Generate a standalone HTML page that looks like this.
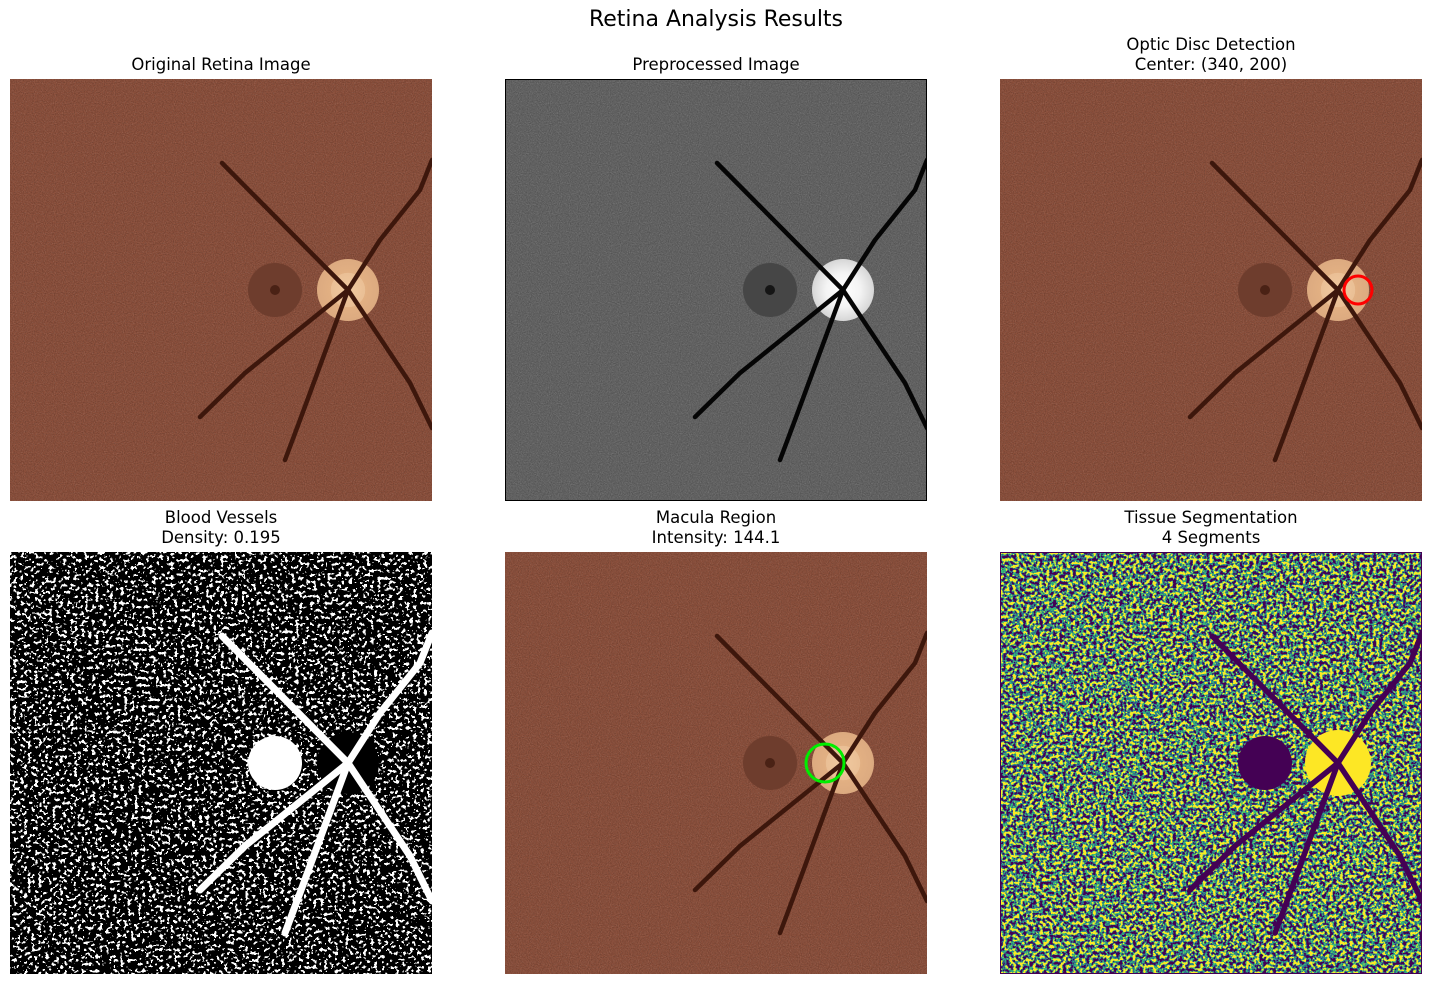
<!DOCTYPE html>
<html><head><meta charset="utf-8">
<style>
html,body{margin:0;padding:0;background:#fff;}
body{width:1432px;height:985px;overflow:hidden;font-family:"DejaVu Sans","Liberation Sans",sans-serif;}
</style></head>
<body>
<svg id="fig" width="1432" height="985" xmlns="http://www.w3.org/2000/svg" font-family="DejaVu Sans, Liberation Sans, sans-serif">
<defs>
<filter id="grain" x="0" y="0" width="100%" height="100%">
  <feTurbulence type="fractalNoise" baseFrequency="0.9" numOctaves="1" seed="3"/>
  <feColorMatrix type="matrix" values="0 0 0 0 0  0 0 0 0 0  0 0 0 0 0  1.2 0 0 0 -0.45"/>
  <feComposite in2="SourceGraphic" operator="in"/>
</filter>
<filter id="grainLight" x="0" y="0" width="100%" height="100%">
  <feTurbulence type="fractalNoise" baseFrequency="0.9" numOctaves="1" seed="7"/>
  <feColorMatrix type="matrix" values="0 0 0 0 1  0 0 0 0 1  0 0 0 0 1  1.2 0 0 0 -0.55"/>
  <feComposite in2="SourceGraphic" operator="in"/>
</filter>
<filter id="binary" x="0" y="0" width="100%" height="100%" color-interpolation-filters="sRGB">
  <feTurbulence type="fractalNoise" baseFrequency="0.28" numOctaves="2" seed="11"/>
  <feColorMatrix type="matrix" values="3 0 0 0 -1  3 0 0 0 -1  3 0 0 0 -1  0 0 0 0 1"/>
  <feComponentTransfer>
    <feFuncR type="discrete" tableValues="0 0 0 0 0 0 0 0 1 1"/>
    <feFuncG type="discrete" tableValues="0 0 0 0 0 0 0 0 1 1"/>
    <feFuncB type="discrete" tableValues="0 0 0 0 0 0 0 0 1 1"/>
  </feComponentTransfer>
</filter>
<filter id="viridis" x="0" y="0" width="100%" height="100%" color-interpolation-filters="sRGB">
  <feTurbulence type="fractalNoise" baseFrequency="0.3" numOctaves="2" seed="5"/>
  <feColorMatrix type="matrix" values="3 0 0 0 -1  3 0 0 0 -1  3 0 0 0 -1  0 0 0 0 1"/>
  <feComponentTransfer>
    <feFuncR type="discrete" tableValues="0.27 0.19 0.21 0.99"/>
    <feFuncG type="discrete" tableValues="0.004 0.41 0.72 0.91"/>
    <feFuncB type="discrete" tableValues="0.33 0.56 0.47 0.15"/>
  </feComponentTransfer>
</filter>
<radialGradient id="discG">
  <stop offset="0" stop-color="#f0c9a0"/><stop offset="0.55" stop-color="#eabf95"/><stop offset="0.56" stop-color="#e2b083"/><stop offset="1" stop-color="#dcaa80"/>
</radialGradient>
<radialGradient id="discW">
  <stop offset="0" stop-color="#ffffff"/><stop offset="0.55" stop-color="#f4f4f4"/><stop offset="1" stop-color="#d6d6d6"/>
</radialGradient>
</defs>
<text x="716" y="26" text-anchor="middle" font-size="22" fill="#000">Retina Analysis Results</text>
</svg>
<script>
// Geometry in panel-local coordinates (panel size 422)
const vesselA = [[212,84],[338,211],[400,304],[422,349]];
const vesselB = [[190,338],[235,294],[338,211],[370,161],[410,111],[422,81]];
const vesselC = [[275,381],[290,341],[338,211]];
const discCenter = [338,211];
const discRadius = 31;
const maculaCenter = [265,211];
const maculaRadius = 27;
const panelOrigins = [[10,79],[505,79],[1000,79],[10,552],[505,552],[1000,552]];
const panelTitles = [["Original Retina Image"],["Preprocessed Image"],["Optic Disc Detection","Center: (340, 200)"],["Blood Vessels","Density: 0.195"],["Macula Region","Intensity: 144.1"],["Tissue Segmentation","4 Segments"]];
const redCircle = [358,211,14];
const greenCircle = [320,211,19];

const NS="http://www.w3.org/2000/svg";
const fig=document.getElementById('fig');
const S=422;
function mk(tag,attrs,parent){const e=document.createElementNS(NS,tag);for(const k in attrs)e.setAttribute(k,attrs[k]);parent.appendChild(e);return e;}
function pts(a){return a.map(p=>p.join(',')).join(' ');}
function vessels(g,color,w){
  [vesselA,vesselB,vesselC].forEach(v=>{
    const l=mk('polyline',{points:pts(v),fill:'none',stroke:color,'stroke-width':w,'stroke-linecap':'round','stroke-linejoin':'round'},g);
    
    
  });
}
function fundus(g){
  mk('rect',{x:0,y:0,width:S,height:S,fill:'#8b4f3b'},g);
  mk('rect',{x:0,y:0,width:S,height:S,fill:'#000',filter:'url(#grain)',opacity:0.35},g);
  mk('rect',{x:0,y:0,width:S,height:S,fill:'#fff',filter:'url(#grainLight)',opacity:0.25},g);
  const m=mk('circle',{cx:maculaCenter[0],cy:maculaCenter[1],r:maculaRadius,fill:'#6e3d2d'},g);
  
  
  mk('circle',{cx:maculaCenter[0],cy:maculaCenter[1],r:5,fill:'#4a2215'},g);
  const d=mk('circle',{cx:discCenter[0],cy:discCenter[1],r:discRadius,fill:'url(#discG)'},g);
  
  
  vessels(g,'#3d170c',4.5);
}
panelOrigins.forEach((o,i)=>{
  const g=mk('g',{transform:`translate(${o[0]},${o[1]})`},fig);
  
  
  const cp=mk('clipPath',{id:'cp'+i},g);mk('rect',{x:0,y:0,width:S,height:S},cp);
  const inner=mk('g',{'clip-path':`url(#cp${i})`},g);
  if(i===0||i===2||i===4){fundus(inner);}
  if(i===1){
    mk('rect',{x:0,y:0,width:S,height:S,fill:'#636363'},inner);
    mk('rect',{x:0,y:0,width:S,height:S,fill:'#000',filter:'url(#grain)',opacity:0.35},inner);
    mk('rect',{x:0,y:0,width:S,height:S,fill:'#fff',filter:'url(#grainLight)',opacity:0.3},inner);
    mk('circle',{cx:maculaCenter[0],cy:maculaCenter[1],r:maculaRadius,fill:'#464646'},inner);
    mk('circle',{cx:maculaCenter[0],cy:maculaCenter[1],r:5,fill:'#151515'},inner);
    mk('circle',{cx:discCenter[0],cy:discCenter[1],r:discRadius,fill:'url(#discW)'},inner);
    vessels(inner,'#050505',4.5);
    mk('rect',{x:0.5,y:0.5,width:S-1,height:S-1,fill:'none',stroke:'#000','stroke-width':1},g);
  }
  if(i===2){
    const c=mk('circle',{cx:redCircle[0],cy:redCircle[1],r:redCircle[2],fill:'none',stroke:'#ff0000','stroke-width':3},inner);
    
    
  }
  if(i===4){
    const c=mk('circle',{cx:greenCircle[0],cy:greenCircle[1],r:greenCircle[2],fill:'none',stroke:'#00ee00','stroke-width':3},inner);
    
    
  }
  if(i===3){
    mk('rect',{x:0,y:0,width:S,height:S,fill:'#000'},inner);
    mk('rect',{x:0,y:0,width:S,height:S,filter:'url(#binary)'},inner);
    mk('circle',{cx:discCenter[0],cy:discCenter[1],r:discRadius,fill:'#000'},inner);
    mk('circle',{cx:maculaCenter[0],cy:maculaCenter[1],r:maculaRadius,fill:'#fff'},inner);
    vessels(inner,'#fff',7);
  }
  if(i===5){
    mk('rect',{x:0,y:0,width:S,height:S,filter:'url(#viridis)'},inner);
    mk('circle',{cx:maculaCenter[0],cy:maculaCenter[1],r:maculaRadius,fill:'#440154'},inner);
    mk('circle',{cx:discCenter[0],cy:discCenter[1],r:discRadius+2,fill:'#fde725'},inner);
    vessels(inner,'#440154',5.5);
    mk('rect',{x:0.5,y:0.5,width:S-1,height:S-1,fill:'none',stroke:'#440154','stroke-width':1},g);
  }
  const t=panelTitles[i];
  t.forEach((line,k)=>{
    const y = t.length===1 ? -9 : -29+k*20;
    const tx=mk('text',{x:S/2,y:y,'text-anchor':'middle','font-size':16.5,fill:'#000'},g);
    tx.textContent=line;
    
    
  });
});
</script>
</body></html>
